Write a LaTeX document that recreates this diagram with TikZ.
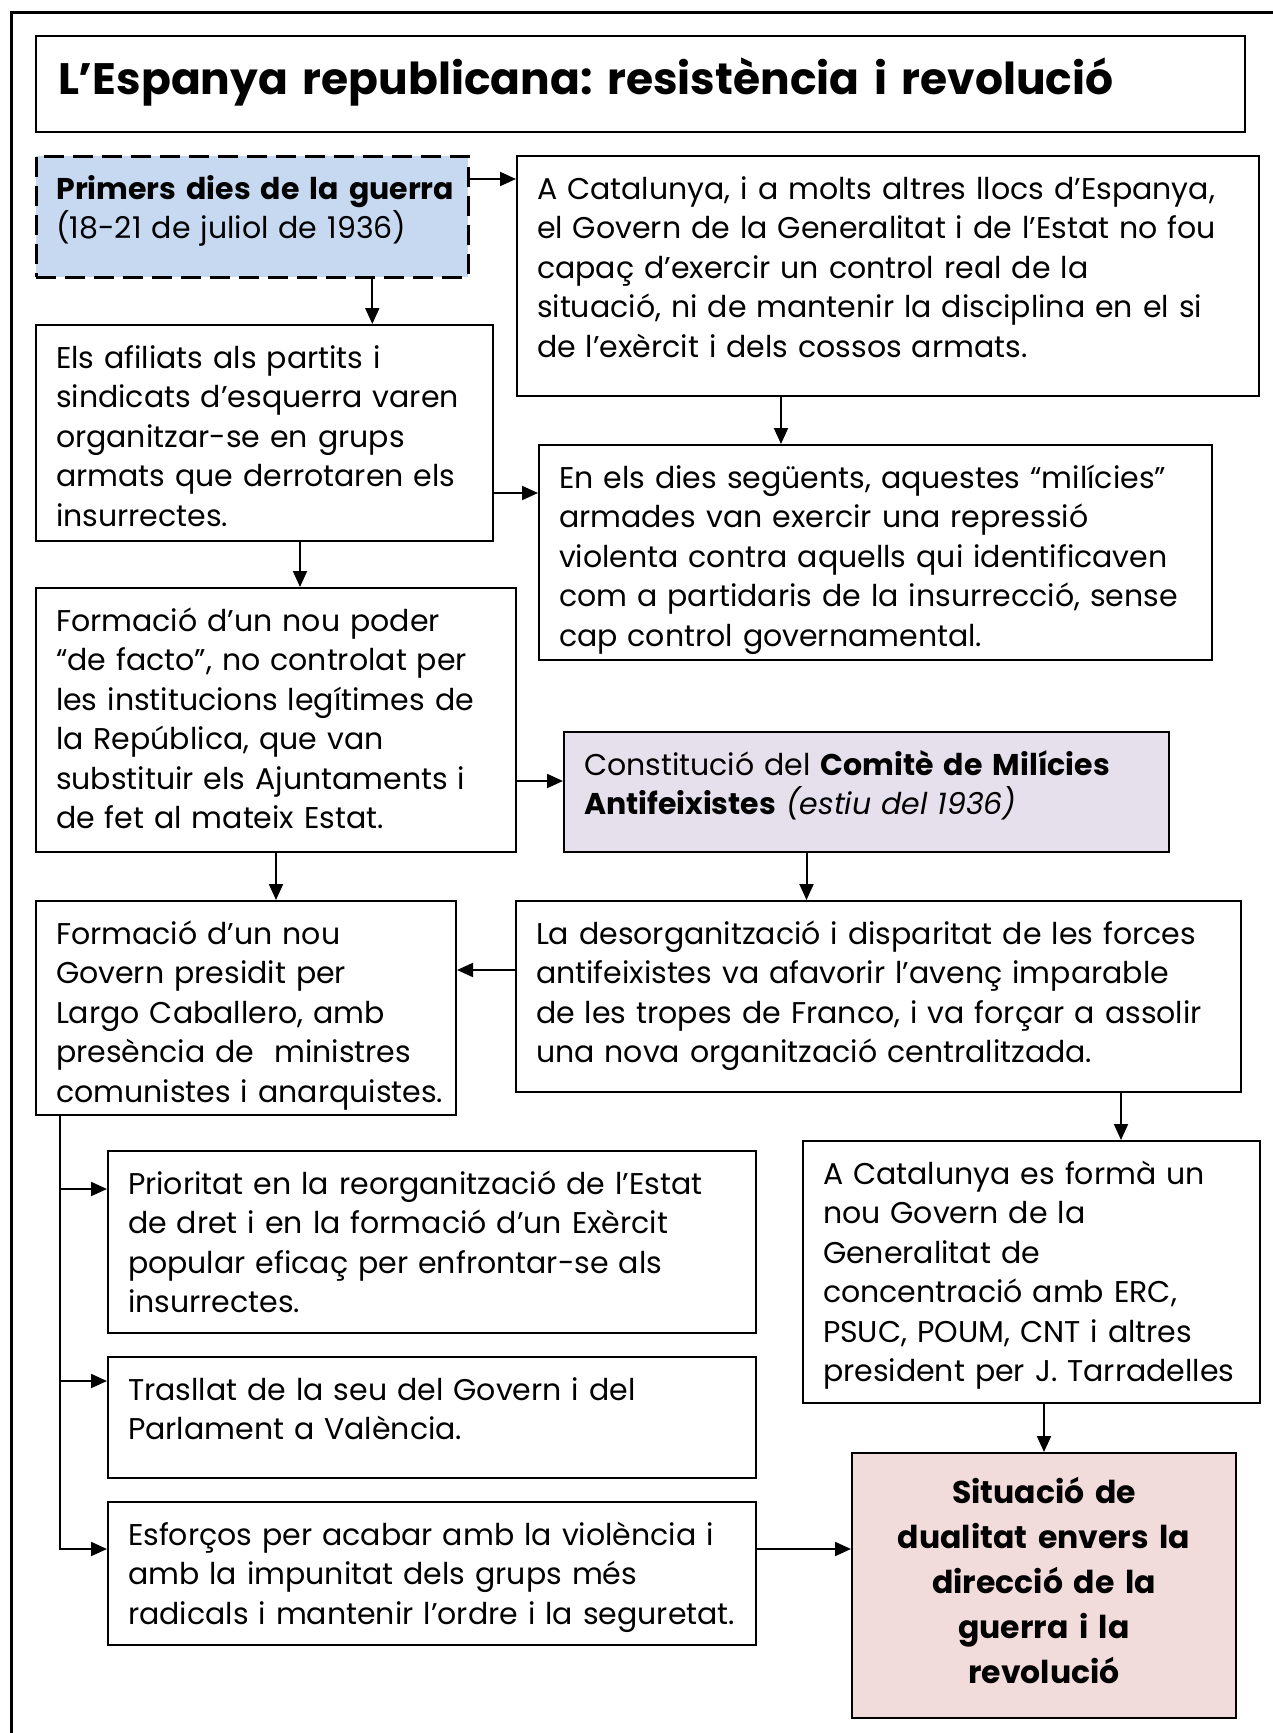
\documentclass[tikz,border=0pt]{standalone}
\usepackage{fontspec}
\setmainfont{Poppins}
\usetikzlibrary{arrows.meta,positioning,calc}

\definecolor{blau}{HTML}{C6D9F1}
\definecolor{lila}{HTML}{E5E0EC}
\definecolor{rosa}{HTML}{F2DCDB}

\tikzset{
  caixa/.style={draw, line width=2pt, anchor=north west, inner sep=0pt, align=left,
    font=\fontsize{30}{39.5}\selectfont, text height=43pt,
    execute at begin node={\leftskip=20pt\rightskip=-60pt plus 1fil}},
  titol/.style={draw, line width=2pt, anchor=north west, inner sep=0pt, align=left,
    font=\bfseries\fontsize{44}{50}\selectfont, text width=1209pt, text height=58pt, text depth=38pt,
    execute at begin node={\leftskip=22pt\rightskip=-60pt plus 1fil}},
  final/.style={draw, line width=2pt, fill=rosa, anchor=north west, inner sep=0pt, align=center,
    font=\bfseries\fontsize{31.5}{45}\selectfont, text width=384pt, text height=50pt, text depth=215pt},
  >={Triangle[length=16pt,width=14pt]},
  fletxa/.style={->, line width=2pt}
}

\begin{document}
\frenchspacing
\begin{tikzpicture}[x=1pt,y=-1pt]
        \useasboundingbox (0,0) rectangle (1273,1733);
        % Marc
        \draw[line width=3pt] (1273,12) -| (11,1733);

        % Titol
        \node[titol] (titol) at (35,35) {L’Espanya republicana: resistència i revolució};

        % Primers dies
        \node[caixa, fill=blau, line width=2.6pt, dash pattern=on 20pt off 9pt, text width=432pt, text depth=78pt] (prim) at (35,155) {
            \textbf{Primers dies de la guerra}\\
            (18-21 de juliol de 1936)};
        \node[caixa, text width=742pt, text depth=197pt] (cat) at (516,155) {
            A Catalunya, i a molts altres llocs d’Espanya,\\
            el Govern de la Generalitat i de l’Estat no fou\\
            capaç d’exercir un control real de la\\
            situació, ni de mantenir la disciplina en el si\\
            de l’exèrcit i dels cossos armats.};
        \node[caixa, text width=457pt, text depth=173pt] (afil) at (35,324) {
            Els afiliats als partits i\\
            sindicats d’esquerra varen\\
            organitzar-se en grups\\
            armats que derrotaren els\\
            insurrectes.};
        \node[caixa, text width=673pt, text depth=172pt] (dies) at (538,444) {
            En els dies següents, aquestes “milícies”\\
            armades van exercir una repressió\\
            violenta contra aquells qui identificaven\\
            com a partidaris de la insurrecció, sense\\
            cap control governamental.};

        % Nou poder
        \node[caixa, text width=480pt, text depth=221pt] (poder) at (35,587) {
            Formació d’un nou poder\\
            “de facto”, no controlat per\\
            les institucions legítimes de\\
            la República, que van\\
            substituir els Ajuntaments i\\
            de fet al mateix Estat.};
        \node[caixa, fill=lila, text width=605pt, text depth=77pt] (comite) at (563,731) {
            Constitució del \textbf{Comitè de Milícies}\\
            \textbf{Antifeixistes} \textit{(estiu del 1936)}};

        % Govern de Largo Caballero
        \node[caixa, text width=420pt, text depth=171pt] (govern) at (35,900) {
            Formació d’un nou\\
            Govern presidit per\\
            Largo Caballero, amb\\
            presència de \ ministres\\
            comunistes i anarquistes.};
        \node[caixa, text width=725pt, text depth=148pt] (desorg) at (515,900) {
            La desorganització i disparitat de les forces\\
            antifeixistes va afavorir l’avenç imparable\\
            de les tropes de Franco, i va forçar a assolir\\
            una nova organització centralitzada.};

        % Mesures del govern
        \node[caixa, text width=648pt, text depth=139pt] (prior) at (107,1150) {
            Prioritat en la reorganització de l’Estat\\
            de dret i en la formació d’un Exèrcit\\
            popular eficaç per enfrontar-se als\\
            insurrectes.};
        \node[caixa, text width=648pt, text depth=78pt] (tras) at (107,1356) {
            Trasllat de la seu del Govern i del\\
            Parlament a València.};
        \node[caixa, text width=648pt, text depth=100pt] (esfo) at (107,1501) {
            Esforços per acabar amb la violència i\\
            amb la impunitat dels grups més\\
            radicals i mantenir l’ordre i la seguretat.};
        \node[caixa, text width=457pt, text depth=219pt] (forma) at (802,1140) {
            A Catalunya es formà un\\
            nou Govern de la\\
            Generalitat de\\
            concentració amb ERC,\\
            PSUC, POUM, CNT i altres\\
            president per J. Tarradelles};

        % Dualitat
        \node[final] (sit) at (851,1452) {
            Situació de\\
            dualitat envers la\\
            direcció de la\\
            guerra i la\\
            revolució};

        % Fletxes
        \coordinate (p1) at ([xshift=120pt]prim.south);
        \coordinate (p2) at ([xshift=-107pt]cat.south);
        \coordinate (p3) at ([yshift=-60pt]afil.east);
        \coordinate (p4) at ([xshift=35.5pt]afil.south);
        \coordinate (p5) at ([yshift=-61pt]poder.east);
        \coordinate (p6) at ([xshift=-60pt]comite.south);
        \coordinate (p7) at ([yshift=26.5pt]desorg.west);
        \coordinate (p8) at ([xshift=242.5pt]desorg.south);
        \coordinate (tronc) at ([xshift=-186pt]govern.south);
        \coordinate (e1) at ([yshift=53pt]prior.west);
        \coordinate (e2) at ([yshift=36.5pt]tras.west);
        \coordinate (e3) at ([yshift=24.5pt]esfo.west);
        \coordinate (e4) at ([yshift=24.5pt]esfo.east);
        \draw[fletxa] ([yshift=-24pt]prim.north east) -- ([yshift=-24pt]cat.north west);
        \draw[fletxa] (p1) -- (p1 |- afil.north);
        \draw[fletxa] (p2) -- (p2 |- dies.north);
        \draw[fletxa] (p3) -- (p3 -| dies.west);
        \draw[fletxa] (p4) -- (p4 |- poder.north);
        \draw[fletxa] (p5) -- (p5 -| comite.west);
        \draw[fletxa] (poder.south) -- (poder.south |- govern.north);
        \draw[fletxa] (p6) -- (p6 |- desorg.north);
        \draw[fletxa] (p7) -- (p7 -| govern.east);
        \draw[fletxa] (p8) -- (p8 |- forma.north);
        \draw[fletxa] (sit.north |- forma.south) -- (sit.north);
        \draw[fletxa] (tronc) |- (e3);
        \draw[fletxa] (tronc |- e1) -- (e1);
        \draw[fletxa] (tronc |- e2) -- (e2);
        \draw[fletxa] (e4) -- (e4 -| sit.west);
\end{tikzpicture}
\end{document}
